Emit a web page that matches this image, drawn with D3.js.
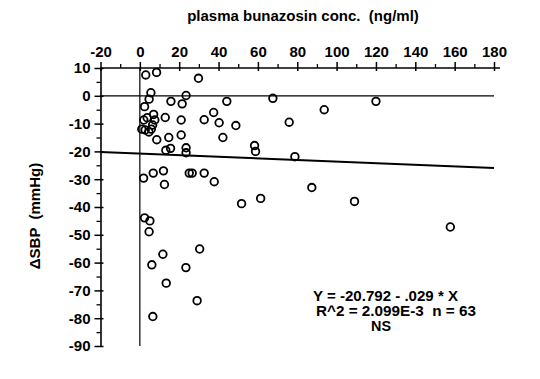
<!DOCTYPE html>
<html>
<head>
<meta charset="utf-8">
<script src="https://cdn.jsdelivr.net/npm/d3@7/dist/d3.min.js"></script>
<style>
  body { margin: 0; background: #fff; }
  text { font-family: "Liberation Sans", Arial, sans-serif; font-weight: bold; fill: #000; white-space: pre; }
</style>
</head>
<body>
<div id="chart"></div>
<script>
// plasma conc (ng/ml) and change in SBP (mmHg)
const concX = [3.0, 8.5, 29.8, 5.6, 4.7, 23.5, 15.8, 21.5, 44.2, 2.4,
  37.5, 7.0, 3.7, 12.9, 7.6, 2.0, 21.0, 32.7, 40.3, 48.8,
  1.0, 2.7, 5.8, 4.6, 8.6, 14.7, 21.0, 42.2, 13.2, 15.6,
  23.5, 23.5, 1.9, 6.8, 12.0, 12.5, 25.1, 26.6, 32.7, 37.8,
  67.6, 120.0, 93.7, 75.9, 58.3, 58.8, 78.8, 87.4, 51.7, 61.4,
  109.1, 157.8, 2.4, 5.1, 4.7, 30.4, 11.7, 6.1, 23.4, 13.4,
  29.1, 6.6, 6.5];
const dSBP = [7.5, 8.4, 6.3, 1.1, -1.2, 0.1, -2.0, -2.9, -2.0, -3.9,
  -6.0, -6.7, -7.9, -7.8, -8.7, -8.7, -8.7, -8.6, -9.7, -10.7,
  -12.0, -12.3, -12.0, -13.0, -15.8, -15.0, -14.1, -15.0, -19.6, -18.9,
  -18.7, -20.5, -29.6, -27.8, -27.0, -31.9, -27.8, -27.8, -27.8, -30.9,
  -0.9, -2.0, -5.0, -9.5, -17.9, -20.0, -21.9, -33.0, -38.8, -36.9,
  -38.0, -47.2, -43.9, -45.0, -48.9, -55.1, -57.0, -60.8, -61.8, -67.4,
  -73.7, -79.4, -10.5];

const xTicks = [-20, 0, 20, 40, 60, 80, 100, 120, 140, 160, 180];
const yTicks = [10, 0, -10, -20, -30, -40, -50, -60, -70, -80, -90];
const fit = { a: -20.792, b: -0.029 };
const notes = ["Y = -20.792 - .029 * X", "R^2 = 2.099E-3  n = 63", "NS"];

const w = 540, h = 379;
const svg = d3.select("#chart").append("svg")
  .attr("width", w).attr("height", h);

const x = d3.scaleLinear().domain([-20, 180]).range([100.5, 494]);
const y = d3.scaleLinear().domain([10, -90]).range([68, 346]);

// plain hyphen like the original, not the unicode minus
const fmt = d => String(d);

// title on top
svg.append("text")
  .attr("x", 303).attr("y", 21)
  .attr("text-anchor", "middle")
  .style("font-size", "15px")
  .text("plasma bunazosin conc.  (ng/ml)");

// minor ticks on x axis
svg.append("g")
  .attr("transform", "translate(0," + y(10) + ")")
  .call(d3.axisTop(x).tickValues(d3.range(-10, 180, 20)).tickSize(4).tickFormat(""))
  .call(g => g.select(".domain").remove())
  .selectAll("line").attr("stroke-width", 1.3);

// x axis (top)
const xAxisG = svg.append("g")
  .attr("transform", "translate(0," + y(10) + ")")
  .call(d3.axisTop(x).tickValues(xTicks).tickFormat(fmt).tickSize(6).tickSizeOuter(0).tickPadding(5));
xAxisG.select(".domain").attr("stroke-width", 1.6).attr("d", "M" + x(-20) + ",0H500");
xAxisG.selectAll("line").attr("y1", 3).attr("stroke-width", 1.5);
xAxisG.selectAll("text").style("font-size", "15px").style("font-family", "'Liberation Sans', Arial, sans-serif");

// minor ticks on y axis
svg.append("g")
  .attr("transform", "translate(" + x(-20) + ",0)")
  .call(d3.axisLeft(y).tickValues(d3.range(5, -90, -10)).tickSize(4).tickFormat(""))
  .call(g => g.select(".domain").remove())
  .selectAll("line").attr("stroke-width", 1.3);

// y axis (left)
const yAxisG = svg.append("g")
  .attr("transform", "translate(" + x(-20) + ",0)")
  .call(d3.axisLeft(y).tickValues(yTicks).tickFormat(fmt).tickSize(6).tickSizeOuter(0).tickPadding(4));
yAxisG.select(".domain").attr("stroke-width", 1.6);
yAxisG.selectAll("line").attr("x1", 3).attr("stroke-width", 1.5);
yAxisG.selectAll("text").style("font-size", "15px").style("font-family", "'Liberation Sans', Arial, sans-serif");

// y title
svg.append("text")
  .attr("transform", "translate(40," + 216 + ") rotate(-90)")
  .attr("text-anchor", "middle")
  .style("font-size", "15px")
  .text("\u0394SBP  (mmHg)");

// reference lines
svg.append("line")
  .attr("x1", x(-20)).attr("x2", x(180))
  .attr("y1", y(0)).attr("y2", y(0))
  .attr("stroke", "#000").attr("stroke-width", 1.2);
svg.append("line")
  .attr("x1", x(0)).attr("x2", x(0))
  .attr("y1", y(10)).attr("y2", y(-90))
  .attr("stroke", "#000").attr("stroke-width", 1.2);

// regression line
svg.append("line")
  .attr("x1", x(-20)).attr("x2", x(180))
  .attr("y1", y(fit.a + fit.b * -20)).attr("y2", y(fit.a + fit.b * 180))
  .attr("stroke", "#000").attr("stroke-width", 2);

// points
svg.selectAll("circle.dot")
  .data(concX.map((c, i) => [c, dSBP[i]]))
  .enter().append("circle")
  .attr("class", "dot")
  .attr("cx", d => x(d[0]))
  .attr("cy", d => y(d[1]))
  .attr("r", 3.8)
  .attr("fill", "none")
  .attr("stroke", "#000")
  .attr("stroke-width", 1.8);

// annotation
const noteX = [313, 316, 371];
const noteY = [301, 316, 331];
const noteW = [145, 160, 20];
notes.forEach((t, i) => {
  svg.append("text")
    .attr("x", noteX[i]).attr("y", noteY[i])
    .attr("textLength", noteW[i])
    .attr("lengthAdjust", "spacingAndGlyphs")
    .style("font-size", "14px")
    .text(t);
});
</script>
</body>
</html>
